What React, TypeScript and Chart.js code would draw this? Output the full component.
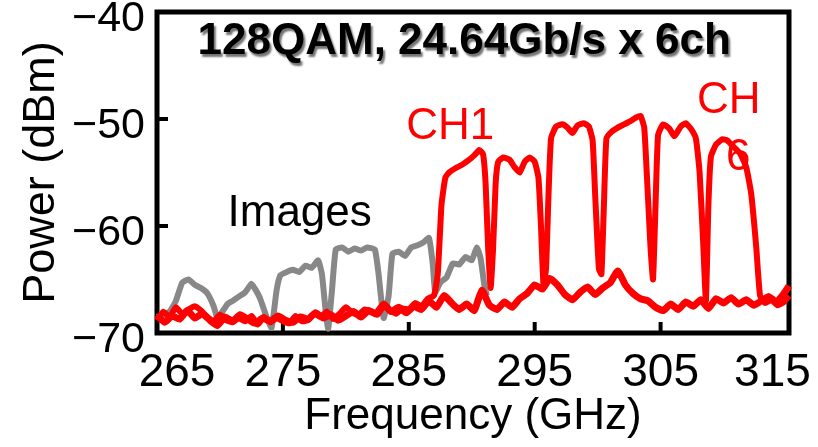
import React, { useEffect, useRef } from "react";
import { Chart, registerables } from "chart.js";

Chart.register(...registerables);

const xTicks = [265, 275, 285, 295, 305, 315];
const yTicks = [-70, -60, -50, -40];
const xMin = 265;
const xMax = 315.2;
const yMin = -70;
const yMax = -40;

const chartTitle = "128QAM, 24.64Gb/s x 6ch";
const xTitle = "Frequency (GHz)";
const yTitle = "Power (dBm)";

// Image (gray) trace
const imageFreq = [
  265.0, 265.5, 266.0, 266.5, 267.0, 267.5, 268.0, 268.5, 269.0, 269.5, 269.8, 270.2, 270.6,
  271.0, 271.5, 272.0, 272.5, 272.8, 273.2, 273.7, 274.1, 274.5, 274.8, 275.3, 275.8, 276.3,
  276.8, 277.3, 277.8, 278.1, 278.4, 278.6, 278.9, 279.2, 279.7, 280.2, 280.7, 281.2, 281.7,
  282.3, 282.6, 283.0, 283.4, 283.7, 284.2, 284.7, 285.2, 285.7, 286.2, 286.6, 286.9, 287.1,
  287.5, 288.0, 288.5, 289.0, 289.5, 290.0, 290.4, 290.7, 291.0, 291.2,
];
const imagePower = [
  -68.5, -68.3, -68.0, -67.0, -65.3, -65.0, -65.5, -65.8, -66.3, -67.5, -68.6, -68.0, -67.3,
  -67.0, -66.6, -66.2, -65.4, -65.9, -66.8, -68.5, -69.5, -66.0, -64.6, -64.3, -64.1, -64.3,
  -63.7, -63.9, -63.2, -64.5, -68.0, -69.6, -66.0, -62.2, -62.0, -62.4, -62.1, -62.3, -62.0,
  -62.2, -64.5, -68.6, -66.5, -62.6, -62.4, -62.8, -62.0, -61.8, -61.5, -61.1, -63.5, -66.2,
  -65.3, -64.8, -63.5, -63.6, -62.9, -63.2, -62.0, -63.0, -65.5, -66.5,
];

// Channel (red) trace
const chFreq = [
  265.0, 265.5, 266.0, 266.5, 267.0, 267.5, 268.0, 268.5, 269.0, 269.5, 270.0, 270.5, 271.0,
  271.5, 272.0, 272.5, 273.0, 273.5, 274.0, 274.5, 275.0, 275.5, 276.0, 276.5, 277.0, 277.5,
  278.0, 278.5, 279.0, 279.5, 280.0, 280.5, 281.0, 281.5, 282.0, 282.5, 283.0, 283.5, 284.0,
  284.5, 285.0, 285.5, 286.0, 286.5, 287.0, 287.3, 287.6, 287.9, 288.2, 288.7, 289.2, 289.7,
  290.2, 290.6, 290.9, 291.1, 291.3, 291.5, 291.7, 291.9, 292.1, 292.5, 293.0, 293.4, 293.8,
  294.2, 294.6, 295.0, 295.3, 295.5, 295.7, 295.9, 296.1, 296.3, 296.7, 297.2, 297.6, 298.0,
  298.4, 298.9, 299.3, 299.6, 299.8, 300.1, 300.3, 300.5, 300.7, 301.1, 301.6, 302.1, 302.6,
  303.0, 303.4, 303.7, 303.9, 304.2, 304.4, 304.6, 304.8, 305.2, 305.7, 306.1, 306.6, 307.0,
  307.4, 307.8, 308.1, 308.4, 308.6, 308.8, 309.0, 309.4, 309.9, 310.3, 310.8, 311.3, 311.8,
  312.2, 312.6, 312.9, 313.3, 313.8, 314.3, 314.8, 315.2,
];
const chPower = [
  -68.8, -68.0, -68.5, -67.6, -68.2, -67.8, -67.5, -67.9, -68.5, -68.9, -68.3, -68.8, -69.0,
  -68.6, -68.9, -68.4, -69.2, -68.5, -69.0, -68.6, -68.9, -69.1, -68.4, -68.9, -68.8, -68.2,
  -68.5, -68.0, -68.7, -68.2, -67.6, -68.1, -68.3, -67.8, -68.0, -68.3, -67.5, -67.9, -68.2,
  -67.7, -67.8, -67.2, -67.5, -66.8, -66.5, -64.5, -58.0, -55.5, -55.0, -54.6, -54.3, -53.9,
  -53.4, -52.9, -53.3, -56.0, -62.0, -65.8, -62.0, -56.0, -54.0, -53.6, -53.8, -54.5, -55.0,
  -54.0, -53.6, -54.0, -55.5, -60.0, -65.5, -64.0, -57.0, -51.8, -50.7, -50.5, -50.8, -51.3,
  -50.6, -50.4, -50.7, -52.0, -57.0, -64.0, -64.5, -58.0, -51.8, -51.2, -50.8, -50.5, -50.2,
  -49.9, -49.7, -50.8, -55.0, -62.0, -65.0, -58.0, -51.5, -50.5, -50.9, -51.6, -50.7, -50.4,
  -50.9, -51.8, -55.0, -62.0, -67.0, -58.0, -53.5, -52.4, -51.9, -52.0, -52.6, -53.2, -54.5,
  -57.0, -62.0, -66.5, -67.2, -66.9, -67.4, -67.1, -66.5,
];

// Noise floor (red) trace
const floorFreq = [
  265.0, 265.6, 266.2, 266.8, 267.4, 268.0, 268.6, 269.2, 269.8, 270.4, 271.0, 271.6, 272.2,
  272.8, 273.4, 274.0, 274.6, 275.2, 275.8, 276.4, 277.0, 277.6, 278.2, 278.8, 279.4, 280.0,
  280.6, 281.2, 281.8, 282.4, 283.0, 283.6, 284.2, 284.8, 285.4, 286.0, 286.6, 287.2, 287.8,
  288.4, 289.0, 289.6, 290.2, 290.8, 291.4, 292.0, 292.6, 293.2, 293.8, 294.4, 295.0, 295.6,
  296.2, 296.8, 297.4, 298.0, 298.6, 299.2, 299.8, 300.4, 301.0, 301.6, 302.2, 302.8, 303.4,
  304.0, 304.6, 305.2, 305.8, 306.4, 307.0, 307.6, 308.2, 308.8, 309.4, 310.0, 310.6, 311.2,
  311.8, 312.4, 313.0, 313.6, 314.2, 314.8, 315.2,
];
const floorPower = [
  -68.3, -69.0, -68.4, -68.7, -67.9, -68.6, -68.2, -68.8, -69.3, -68.5, -68.9, -68.3, -68.7,
  -69.1, -68.6, -68.9, -68.4, -68.8, -69.0, -68.5, -68.7, -68.1, -68.6, -68.3, -68.8, -68.4,
  -68.0, -68.5, -67.9, -68.2, -67.3, -68.0, -67.6, -68.1, -67.5, -67.8, -67.0, -67.6, -66.5,
  -67.2, -67.8, -67.3, -67.9, -66.0, -67.4, -67.8, -67.1, -67.6, -66.8, -66.3, -65.5, -65.9,
  -64.9, -65.5, -66.4, -66.9, -66.2, -65.7, -66.4, -65.8, -65.3, -64.2, -65.5, -66.3, -66.8,
  -67.0, -67.6, -67.9, -67.3, -67.8, -67.1, -67.5, -66.9, -67.7, -66.8, -67.2, -66.7, -67.3,
  -66.9, -67.4, -67.0, -66.6, -67.1, -66.3, -65.6,
];

// Text labels inside the plot (data coordinates)
const noteTexts = ["Images", "CH1", "CH", "6"];
const noteX = [270.6, 284.8, 307.9, 310.2];
const noteY = [-60.0, -51.9, -49.4, -54.8];
const noteColors = ["#000000", "#ff0000", "#ff0000", "#ff0000"];
const titleX = 289.4;
const titleY = -42.8;

const FONT = "'Liberation Sans', Arial, Helvetica, sans-serif";

const toPoints = (xs: number[], ys: number[]) => xs.map((x, i) => ({ x, y: ys[i] }));

const framePlugin = {
  id: "frame",
  beforeDraw(chart: any) {
    // nudge the outermost x tick labels inward, as in the original figure
    const sx = chart.scales.x;
    const items = sx.getLabelItems(chart.chartArea);
    if (items && items.length) {
      items[0].options.translation[0] += 20;
      items[items.length - 1].options.translation[0] -= 14;
    }
  },
  beforeDatasetsDraw(chart: any) {
    const { ctx, chartArea: a, scales } = chart;
    ctx.save();
    ctx.strokeStyle = "#000";
    ctx.lineWidth = 5;
    ctx.strokeRect(a.left, a.top, a.right - a.left, a.bottom - a.top);
    ctx.lineWidth = 4;
    yTicks.forEach((v) => {
      if (v === yMin || v === yMax) return;
      const py = scales.y.getPixelForValue(v);
      ctx.beginPath();
      ctx.moveTo(a.left, py);
      ctx.lineTo(a.left + 11, py);
      ctx.stroke();
    });
    xTicks.forEach((v) => {
      const px = scales.x.getPixelForValue(v);
      if (px <= a.left + 3 || px >= a.right - 3) return;
      ctx.beginPath();
      ctx.moveTo(px, a.bottom);
      ctx.lineTo(px, a.bottom - 11);
      ctx.stroke();
    });
    ctx.restore();
  },
  afterDatasetsDraw(chart: any) {
    const { ctx, scales } = chart;
    ctx.save();
    ctx.font = `bold 44px ${FONT}`;
    ctx.textAlign = "center";
    ctx.textBaseline = "middle";
    ctx.shadowColor = "rgba(0,0,0,0.55)";
    ctx.shadowOffsetX = 2;
    ctx.shadowOffsetY = 3;
    ctx.shadowBlur = 2;
    ctx.fillStyle = "#000";
    ctx.fillText(chartTitle, scales.x.getPixelForValue(titleX), scales.y.getPixelForValue(titleY));
    ctx.shadowColor = "transparent";
    ctx.shadowOffsetX = 0;
    ctx.shadowOffsetY = 0;
    ctx.shadowBlur = 0;
    ctx.font = `44px ${FONT}`;
    ctx.textAlign = "left";
    ctx.textBaseline = "alphabetic";
    noteTexts.forEach((t, i) => {
      ctx.fillStyle = noteColors[i];
      ctx.fillText(t, scales.x.getPixelForValue(noteX[i]), scales.y.getPixelForValue(noteY[i]));
    });
    ctx.restore();
  },
};

export default function App() {
  const ref = useRef<HTMLCanvasElement | null>(null);
  useEffect(() => {
    if (!ref.current) return;
    const chart = new Chart(ref.current, {
      type: "line",
      data: {
        datasets: [
          {
            data: toPoints(chFreq, chPower),
            borderColor: "#ff0000",
            borderWidth: 6,
            pointRadius: 0,
            tension: 0.15,
            clip: 6,
          },
          {
            data: toPoints(floorFreq, floorPower),
            borderColor: "#ff0000",
            borderWidth: 7,
            pointRadius: 0,
            tension: 0.15,
            clip: 6,
          },
          {
            data: toPoints(imageFreq, imagePower),
            borderColor: "#888888",
            borderWidth: 6,
            pointRadius: 0,
            tension: 0.15,
            clip: 6,
          },
        ],
      },
      options: {
        animation: false,
        responsive: false,
        devicePixelRatio: 1,
        layout: { padding: { top: 12, right: 29, left: 0, bottom: 0 } },
        plugins: { legend: { display: false }, tooltip: { enabled: false } },
        scales: {
          x: {
            type: "linear",
            min: xMin,
            max: xMax,
            afterBuildTicks: (s: any) => {
              s.ticks = xTicks.map((v) => ({ value: v }));
            },
            afterFit: (s: any) => {
              s.height = 114;
              s.paddingLeft = 0;
              s.paddingRight = 0;
            },
            grid: { display: false, drawTicks: false },
            border: { display: false },
            ticks: {
              autoSkip: false,
              maxRotation: 0,
              minRotation: 0,
              padding: 13,
              color: "#000",
              font: { family: FONT, size: 46 },
              callback: (v: any) => String(v),
            },
            title: {
              display: true,
              text: xTitle,
              color: "#000",
              font: { family: FONT, size: 44 },
              padding: { top: 0, bottom: 4 },
            },
          },
          y: {
            type: "linear",
            min: yMin,
            max: yMax,
            afterBuildTicks: (s: any) => {
              s.ticks = yTicks.map((v) => ({ value: v }));
            },
            afterFit: (s: any) => {
              s.width = 157;
              s.paddingTop = 0;
              s.paddingBottom = 0;
            },
            grid: { display: false, drawTicks: false },
            border: { display: false },
            ticks: {
              padding: 12,
              labelOffset: 7,
              color: "#000",
              font: { family: FONT, size: 43 },
              callback: (v: any) => (Number(v) < 0 ? "\u2212" + Math.abs(Number(v)) : String(v)),
            },
            title: {
              display: true,
              text: yTitle,
              color: "#000",
              font: { family: FONT, size: 45 },
              padding: { top: 15, bottom: 0 },
            },
          },
        },
      },
      plugins: [framePlugin],
    });
    return () => chart.destroy();
  }, []);
  return (
    <div style={{ position: "absolute", left: 0, top: 0, width: 818, height: 447, background: "#fff" }}>
      <canvas ref={ref} width={818} height={447} style={{ width: 818, height: 447, display: "block" }} />
    </div>
  );
}
